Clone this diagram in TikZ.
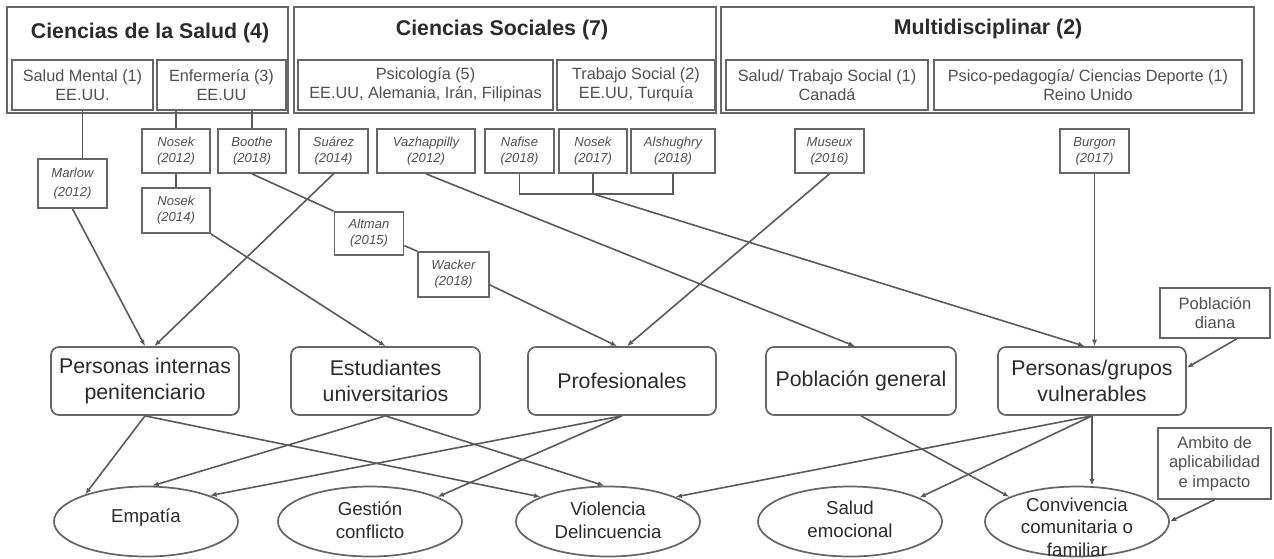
\documentclass[tikz,border=0pt]{standalone}
\usepackage{fontspec}
\setmainfont{Liberation Sans}
\usetikzlibrary{arrows.meta,shapes.geometric}
\definecolor{lnc}{HTML}{5A5A5A}
\definecolor{bd}{HTML}{666666}
\definecolor{tx}{HTML}{2B2B2B}
\definecolor{tg}{HTML}{505050}
\begin{document}
\begin{tikzpicture}[x=0.75pt,y=-0.75pt,
  wh/.style 2 args={minimum width=#1*0.75pt,minimum height=#2*0.75pt},
  grp/.style={draw=bd,line width=1.6pt,inner sep=0pt},
  cat/.style={draw=bd,line width=1.4pt,fill=white,inner sep=1pt,align=center,text=tg,font=\fontsize{12.2}{14.2}\selectfont},
  ttl/.style={font=\bfseries\fontsize{16}{18}\selectfont,text=tx,inner sep=0pt},
  auth/.style={draw=bd,line width=1.3pt,fill=white,inner sep=1pt,align=center,text=tg,font=\itshape\fontsize{9.8}{12}\selectfont},
  pop/.style={draw=bd,line width=1.3pt,rounded corners=6pt,inner sep=2pt,align=center,text=tx,font=\fontsize{16}{19}\selectfont},
  ell/.style={draw=bd,line width=1.3pt,ellipse,inner sep=0pt},
  etx/.style={align=center,text=tx,font=\fontsize{14}{17}\selectfont,inner sep=0pt},
  side/.style={draw=bd,line width=1.3pt,inner sep=1pt,align=center,text=tg,font=\fontsize{12.4}{14.5}\selectfont},
  cn/.style={draw=lnc,line width=1.2pt},
  arr/.style={cn,-{Latex[length=4.8pt,width=3.8pt]}}
]
\useasboundingbox (0,0) rectangle (1274,558);
\fill[white] (0,0) rectangle (1274,558);
% group boxes
\node[grp,wh={281}{106}] (g1) at (147.5,60) {};
\node[grp,wh={422}{106}] (g2) at (505,60) {};
\node[grp,wh={533}{106}] (g3) at (987.5,60) {};
\node[ttl] (t1) at (150,33) {Ciencias de la Salud (4)};
\node[ttl] (t2) at (502,30) {Ciencias Sociales (7)};
\node[ttl] (t3) at (988,29) {Multidisciplinar (2)};
% categories
\node[cat,wh={141}{50}] (salm) at (82.5,85) {Salud Mental (1)\\EE.UU.};
\node[cat,wh={129}{50}] (enf) at (221.5,85) {Enfermería (3)\\EE.UU};
\node[cat,wh={255}{50}] (psi) at (425.5,85) {Psicología (5)\\EE.UU, Alemania, Irán, Filipinas};
\node[cat,wh={158}{50}] (tso) at (636,85) {Trabajo Social (2)\\EE.UU, Turquía};
\node[cat,wh={202}{50}] (stso) at (827,85) {Salud/ Trabajo Social (1)\\Canadá};
\node[cat,wh={308}{50}] (pped) at (1088,85) {Psico-pedagogía/ Ciencias Deporte (1)\\Reino Unido};
% authors
\node[auth,wh={68}{44}] (nk12) at (176,151) {Nosek\\(2012)};
\node[auth,wh={68}{44}] (boo) at (252,151) {Boothe\\(2018)};
\node[auth,wh={69}{44}] (sua) at (333.5,151) {Suárez\\(2014)};
\node[auth,wh={98}{44}] (vaz) at (426,151) {Vazhappilly\\(2012)};
\node[auth,wh={69}{44}] (naf) at (519.5,151) {Nafise\\(2018)};
\node[auth,wh={68}{44}] (nk17) at (593,151) {Nosek\\(2017)};
\node[auth,wh={84}{44}] (als) at (673,151) {Alshughry\\(2018)};
\node[auth,wh={69}{44}] (mus) at (829.5,151) {Museux\\(2016)};
\node[auth,wh={69}{44}] (bur) at (1094.5,151) {Burgon\\(2017)};
\node[auth,wh={69}{49},font=\itshape\fontsize{9.8}{14}\selectfont] (mar) at (72.5,183.5) {Marlow\\(2012)};
\node[auth,wh={68}{45}] (nk14) at (176,210.5) {Nosek\\(2014)};
\node[auth,wh={69}{43}] (alt) at (369,233.5) {Altman\\(2015)};
\node[auth,wh={71}{45}] (wac) at (453.5,274.5) {Wacker\\(2018)};
% populations
\node[pop,wh={188}{68}] (pint) at (145,381) {Personas internas\\penitenciario};
\node[pop,wh={189}{68}] (est) at (385.5,381) {Estudiantes\\universitarios};
\node[pop,wh={188}{68}] (prof) at (622,381) {Profesionales};
\node[pop,wh={190}{68}] (pgen) at (861,381) {Población general};
\node[pop,wh={188}{68}] (pvul) at (1092,381) {Personas/grupos\\vulnerables};
% side labels
\node[side,wh={110}{50}] (pdi) at (1215,313) {Población\\diana};
\node[side,wh={113}{71}] (amb) at (1214.5,463.5) {Ambito de\\aplicabilidad\\e impacto};
% outcomes
\node[ell,wh={184}{70}] (emp) at (146,521.5) {};
\node[ell,wh={184}{70}] (gest) at (370,521.5) {};
\node[ell,wh={184}{70}] (viol) at (608,521.5) {};
\node[ell,wh={184}{70}] (salem) at (850,521.5) {};
\node[ell,wh={184}{70}] (conv) at (1077,521.5) {};
\node[etx] (empt) at (146,518) {Empatía};
\node[etx] (gestt) at (370,520) {Gestión\\conflicto};
\node[etx] (violt) at (608,520) {Violencia\\Delincuencia};
\node[etx] (salemt) at (850,519) {Salud\\emocional};
\node[etx] (convt) at (1077,527) {Convivencia\\comunitaria o\\familiar};
% top connectors
\draw[cn] (salm.south) -- (salm.south |- mar.north);
\draw[cn] (nk12.north |- enf.south) -- (nk12.north);
\draw[cn] (boo.north |- enf.south) -- (boo.north);
\draw[cn] (nk12.south) -- (nk14.north);
\draw[cn] (naf.south) -- ++(0,20) -| (als.south);
\draw[cn] (nk17.south) -- ++(0,20) coordinate (bj);
\draw[cn] (boo.south) -- (alt.north west);
\draw[cn] (alt.341) -- (wac.north west);
% arrows to populations
\draw[arr] (wac.344) -- (prof.98);
\draw[arr] (mar.south) -- (pint.north);
\draw[arr] (sua.south) -- (pint.75);
\draw[arr] (nk14.south east) -- (est.north);
\draw[arr] (mus.south) -- (prof.82);
\draw[arr] (vaz.south) -- (pgen.100);
\draw[arr] (bj) -- (pvul.102);
\draw[arr] (bur.south) -- (bur.south |- pvul.north);
\draw[arr] (pdi.310) -- (pvul.8);
% arrows to outcomes
\draw[arr] (pint.south) -- (emp.156);
\draw[arr] (pint.south) -- (viol.160);
\draw[arr] (est.south) -- (emp.80);
\draw[arr] (est.south) -- (viol.96);
\draw[arr] (prof.south) -- (emp.22);
\draw[arr] (prof.south) -- (gest.20);
\draw[arr] (pgen.south) -- (conv.160);
\draw[arr] (pvul.south) -- (viol.20);
\draw[arr] (pvul.south) -- (salem.19);
\draw[arr] (pvul.south) -- (pvul.south |- conv.north);
\draw[arr] (amb.south) -- (conv.east);
\end{tikzpicture}
\end{document}
